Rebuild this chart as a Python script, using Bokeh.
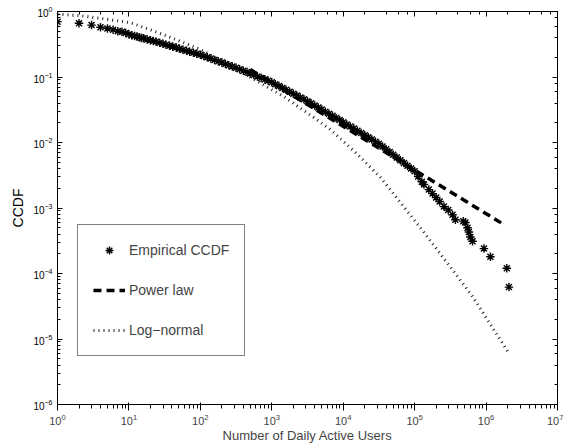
from bokeh.plotting import figure
from bokeh.models import LogAxis, LogTicker, Legend, LegendItem
from bokeh.embed import file_html
from bokeh.resources import INLINE

# Empirical CCDF
emp_x = [1, 2, 3, 4, 5, 6, 7, 8, 9, 10,
         11, 12, 13, 14, 15, 16, 18, 20, 22, 24,
         27, 30, 33, 37, 41, 46, 51, 57, 64, 71,
         80, 89, 100, 112, 125, 140, 158, 178, 200, 224,
         250, 280, 316, 355, 400, 450, 500, 560, 630, 710,
         800, 890, 1000, 1120, 1260, 1410, 1580, 1780, 2000, 2240,
         2510, 2820, 3160, 3550, 3980, 4470, 5010, 5620, 6310, 7080,
         7940, 8910, 10000, 11200, 12600, 14100, 15800, 17800, 20000, 22400,
         25100, 28200, 31600, 35500, 39800, 44700, 50100, 56200, 63100, 70800,
         79400, 89100, 100000, 112000, 126000, 135000, 158000, 178000, 200000, 224000,
         257000, 295000, 339000, 372000, 479000, 513000, 550000, 575000, 603000, 646000,
         933000, 1150000, 1950000, 2090000]
emp_y = [0.70, 0.66, 0.62, 0.575, 0.55, 0.525, 0.50, 0.49, 0.47, 0.45,
         0.435, 0.423, 0.414, 0.403, 0.394, 0.389, 0.374, 0.363, 0.353, 0.344,
         0.332, 0.321, 0.312, 0.301, 0.292, 0.281, 0.271, 0.261, 0.252, 0.244,
         0.235, 0.227, 0.219, 0.209, 0.200, 0.191, 0.182, 0.174, 0.166, 0.158,
         0.151, 0.145, 0.138, 0.131, 0.125, 0.119, 0.113, 0.107, 0.102, 0.0968,
         0.0920, 0.0875, 0.0832, 0.0778, 0.0728, 0.0681, 0.0637, 0.0596, 0.0557, 0.0521,
         0.0488, 0.0456, 0.0427, 0.0396, 0.0368, 0.0342, 0.0318, 0.0295, 0.0274, 0.0255,
         0.0237, 0.0220, 0.0204, 0.0189, 0.0175, 0.0163, 0.0151, 0.0140, 0.0129, 0.0120,
         0.0111, 0.0103, 0.00955, 0.00867, 0.00787, 0.00714, 0.00649, 0.00589, 0.00535, 0.00485,
         0.00441, 0.00400, 0.00363, 0.00302, 0.00251, 0.00229, 0.00191, 0.00166, 0.00145, 0.00126,
         0.00105, 0.00093, 0.00079, 0.00066, 0.00063, 0.00060, 0.00050, 0.00043, 0.00036, 0.00031,
         0.00024, 0.00018, 0.00012, 0.000062]

# Power-law fit (end points)
pl_x = [500, 1.7e6]
pl_y = [0.130, 5.75e-4]

# Log-normal fit
ln_x = [1, 2.34, 5.01, 10.5, 31.6, 100, 316, 1480, 3160, 6610, 14800, 33100,
        120000, 282000, 646000, 2000000]
ln_y = [0.912, 0.851, 0.759, 0.676, 0.437, 0.263, 0.132, 0.0501, 0.0282, 0.0158,
        0.00708, 0.00295, 0.000501, 0.000148, 0.0000447, 0.0000065]

FONT = "Liberation Sans"

p = figure(width=563, height=445, x_axis_type="log", y_axis_type="log",
           x_range=(1, 1e7), y_range=(1e-6, 1),
           output_backend="svg", toolbar_location=None,
           min_border_left=57, min_border_right=6, min_border_top=11,
           min_border_bottom=38)
p.xgrid.visible = False
p.ygrid.visible = False
p.outline_line_color = "black"
p.outline_line_width = 1

p.xaxis.axis_label = "Number of Daily Active Users"
p.yaxis.axis_label = "CCDF"

top = LogAxis(ticker=LogTicker())
right = LogAxis(ticker=LogTicker())
p.add_layout(top, "above")
p.add_layout(right, "right")

for ax in [p.xaxis[0], p.yaxis[0], top, right]:
    ax.major_tick_in = 5
    ax.major_tick_out = 0
    ax.minor_tick_in = 3
    ax.minor_tick_out = 0
    ax.axis_line_color = "black"
    ax.major_tick_line_color = "black"
    ax.minor_tick_line_color = "black"
    ax.major_label_text_font = FONT
    ax.major_label_text_font_size = "10px"
    ax.major_label_text_color = "black"
    ax.axis_label_text_font = FONT
    ax.axis_label_text_font_size = "14px"
    ax.axis_label_text_font_style = "normal"
    ax.axis_label_text_color = "black"

p.xaxis.axis_label_text_font_style = "normal"
p.yaxis.axis_label_text_font_style = "normal"
p.xaxis.major_label_standoff = 3
p.xaxis.axis_label_standoff = 0
p.yaxis.major_label_standoff = 5
p.yaxis.axis_label_standoff = 4
for ax in [top, right]:
    ax.major_label_text_font_size = "1px"
    ax.major_label_text_alpha = 0
    ax.major_label_standoff = 0

r_emp = p.scatter(emp_x, emp_y, marker="asterisk", size=8.5,
                  line_color="black", line_width=1.4)
r_pl = p.line(pl_x, pl_y, line_width=3.5, line_dash="8 5", line_color="black")
r_ln = p.line(ln_x, ln_y, line_width=3, line_dash="1 4", line_color="#222222")

legend = Legend(items=[LegendItem(label="Empirical CCDF", renderers=[r_emp]),
                       LegendItem(label="Power law", renderers=[r_pl]),
                       LegendItem(label="Log\u2212normal", renderers=[r_ln])],
                location=(20, 48), padding=15, spacing=20, margin=0,
                glyph_height=20, glyph_width=32, label_height=20,
                label_standoff=4, border_line_color="black",
                border_line_width=1.2, label_text_font=FONT,
                label_text_font_size="14px", background_fill_alpha=1)
p.add_layout(legend)

open("out.html", "w").write(file_html(p, INLINE))
